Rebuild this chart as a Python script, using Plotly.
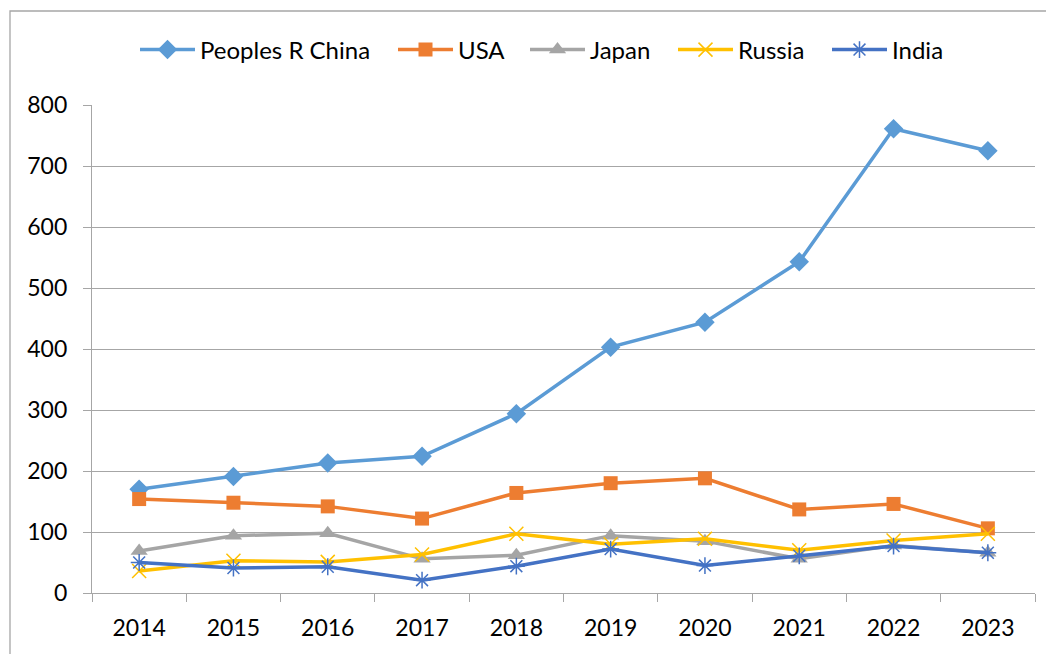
import plotly.graph_objects as go

years = ["2014", "2015", "2016", "2017", "2018", "2019", "2020", "2021", "2022", "2023"]
china = [170, 191, 213, 224, 294, 403, 444, 543, 761, 725]
usa = [154, 148, 142, 122, 164, 180, 188, 137, 146, 106]
japan = [69, 94, 98, 56, 62, 94, 85, 56, 78, 66]
russia = [36, 53, 51, 63, 97, 80, 89, 70, 86, 97]
india = [50, 41, 43, 21, 44, 72, 45, 61, 77, 66]

series = [
    ("Peoples R China", china, "#5B9BD5", "diamond", 15, None, 188),
    ("USA", usa, "#ED7D31", "square", 14, None, 62),
    ("Japan", japan, "#A5A5A5", "triangle-up", 15, None, 78),
    ("Russia", russia, "#FFC000", "x-thin-open", 14, 1.5, 84),
    ("India", india, "#4472C4", "asterisk-open", 14, 1.5, 50),
]

fig = go.Figure()
for name, vals, color, sym, size, mlw, lw in series:
    marker = dict(symbol=sym, size=size, color=color)
    if mlw:
        marker["line"] = dict(color=color, width=mlw)
    else:
        marker["line"] = dict(width=0)
    fig.add_trace(go.Scatter(x=years, y=vals, name=name, mode="lines+markers",
                             line=dict(color=color, width=3.5), marker=marker,
                             legendwidth=lw))

# page is offset by the 8px body margin
OFF = 8
W, H = 1054 - OFF, 654 - OFF
L, R, T, B = 92 - OFF, 19, 105 - OFF, 61
pw = W - L - R
ph = H - T - B

fig.update_layout(
    width=W, height=H,
    margin=dict(l=L, r=R, t=T, b=B, autoexpand=False),
    paper_bgcolor="white", plot_bgcolor="white",
    font=dict(family="Lato, Open Sans, sans-serif", size=23, color="black"),
    showlegend=True,
    legend=dict(orientation="h", xref="container", yref="container",
                x=(541 - OFF) / W, xanchor="center", y=1 - (50 - OFF) / H, yanchor="middle",
                font=dict(size=24), itemwidth=55, tracegroupgap=0),
    xaxis=dict(type="category", tickson="boundaries", ticks="outside", ticklen=8,
               tickcolor="#A6A6A6", showline=True, linecolor="#A6A6A6", linewidth=1.3,
               showgrid=False, range=[-0.5, 9.5], ticklabelstandoff=14, automargin=False),
    yaxis=dict(range=[0, 800], dtick=100, ticks="outside", ticklen=8,
               tickcolor="#A6A6A6", showline=True, linecolor="#A6A6A6", linewidth=1.3,
               showgrid=True, gridcolor="#A6A6A6", gridwidth=1.3, zeroline=False,
               ticklabelstandoff=11, automargin=False),
    shapes=[dict(type="rect", xref="paper", yref="paper",
                 x0=(10 - OFF - L) / pw, x1=(W + 5 - L) / pw,
                 y0=-(B + 5) / ph, y1=1 + (T - (11 - OFF)) / ph,
                 line=dict(color="#A6A6A6", width=1.3), fillcolor="rgba(0,0,0,0)",
                 layer="below")],
)

fig.write_html("out.html")
